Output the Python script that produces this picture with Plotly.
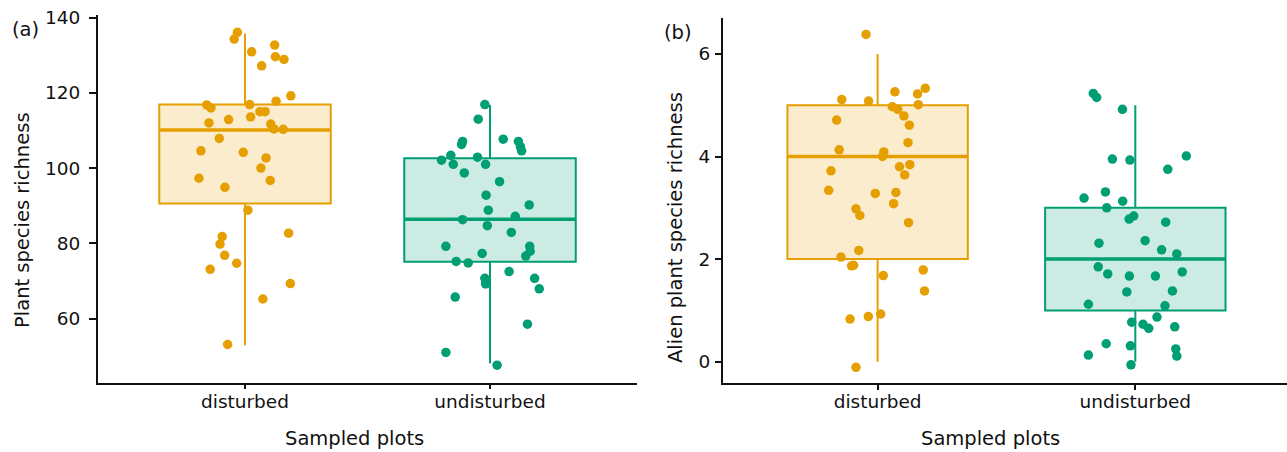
import plotly.graph_objects as go

W, H = 1287, 452

categories = ["disturbed", "undisturbed"]
cat_pos = [1, 2]
colors = ["#E69F00", "#009E73"]
fills = ["rgba(230,159,0,0.2)", "rgba(0,158,115,0.2)"]

# ---------- Panel (a): Plant species richness ----------
a_box_q1 = [90.6, 75.1]
a_box_median = [110.1, 86.4]
a_box_q3 = [116.9, 102.6]
a_box_low = [52.9, 48.1]
a_box_high = [135.8, 116.8]

a_dist_vals = [136.1, 134.3, 130.9, 132.7, 129.6, 128.9, 127.2, 119.2, 117.8, 116.8,
               116.0, 116.9, 115.0, 115.0, 113.6, 112.9, 112.0, 111.7, 110.4, 110.3,
               107.9, 104.6, 104.2, 102.7, 100.0, 97.3, 96.7, 94.9, 88.8, 82.7,
               81.8, 79.8, 76.8, 74.7, 73.1, 69.3, 65.2, 53.1]
a_dist_jit = [-0.031, -0.044, 0.027, 0.121, 0.124, 0.159, 0.068, 0.187, 0.127, -0.156,
              -0.139, 0.019, 0.061, 0.082, 0.023, -0.067, -0.147, 0.105, 0.118, 0.156,
              -0.105, -0.180, -0.007, 0.086, 0.065, -0.188, 0.103, -0.082, 0.012, 0.178,
              -0.093, -0.102, -0.083, -0.034, -0.142, 0.185, 0.073, -0.071]
a_und_vals = [116.9, 113.0, 107.1, 106.3, 107.7, 107.1, 105.7, 104.6, 103.4, 102.1,
              101.0, 102.9, 101.0, 98.7, 96.4, 92.8, 90.2, 88.8, 86.3, 87.2,
              84.7, 82.9, 79.2, 79.2, 77.9, 76.6, 77.3, 75.2, 74.8, 72.5,
              70.7, 69.2, 70.7, 67.9, 65.7, 58.5, 51.0, 47.6]
a_und_jit = [-0.021, -0.048, -0.112, -0.116, 0.054, 0.116, 0.124, 0.129, -0.160, -0.198,
             -0.150, -0.051, -0.018, -0.105, 0.039, -0.016, 0.160, -0.007, -0.112, 0.103,
             -0.011, 0.087, -0.180, 0.162, 0.164, 0.146, -0.032, -0.138, -0.089, 0.078,
             -0.021, -0.018, 0.182, 0.201, -0.142, 0.153, -0.180, 0.029]

# ---------- Panel (b): Alien plant species richness ----------
b_box_q1 = [2.0, 1.0]
b_box_median = [4.0, 2.0]
b_box_q3 = [5.0, 3.0]
b_box_low = [0.0, 0.0]
b_box_high = [6.0, 5.0]

b_dist_vals = [6.38, 5.11, 5.08, 5.26, 5.22, 5.33, 4.97, 4.92, 5.01, 4.79,
               4.61, 4.71, 4.27, 4.13, 4.09, 4.00, 3.80, 3.84, 3.64, 3.72,
               3.34, 3.28, 3.30, 3.08, 2.98, 2.85, 2.71, 2.17, 2.04, 1.87,
               1.88, 1.68, 1.79, 1.38, 0.83, 0.88, 0.93, -0.11]
b_dist_jit = [-0.045, -0.139, -0.035, 0.067, 0.155, 0.185, 0.057, 0.078, 0.158, 0.102,
              0.123, -0.159, 0.118, -0.149, 0.024, 0.019, 0.085, 0.125, 0.105, -0.181,
              -0.190, -0.009, 0.071, 0.062, -0.084, -0.069, 0.120, -0.073, -0.142, -0.101,
              -0.093, 0.022, 0.177, 0.182, -0.107, -0.036, 0.012, -0.084]
b_und_vals = [5.23, 5.15, 4.92, 3.95, 3.93, 4.01, 3.75, 3.31, 3.19, 3.13,
              3.00, 2.84, 2.78, 2.72, 2.31, 2.36, 2.18, 2.10, 1.85, 1.71,
              1.67, 1.67, 1.75, 1.36, 1.38, 1.12, 1.09, 0.87, 0.77, 0.73,
              0.65, 0.68, 0.35, 0.31, 0.13, 0.25, 0.11, -0.06]
b_und_jit = [-0.163, -0.150, -0.050, -0.089, -0.021, 0.198, 0.126, -0.116, -0.199, -0.049,
             -0.111, -0.006, -0.024, 0.118, -0.141, 0.038, 0.102, 0.161, -0.144, -0.107,
             -0.023, 0.078, 0.182, -0.033, 0.144, -0.182, 0.115, 0.084, -0.014, 0.030,
             0.052, 0.153, -0.113, -0.019, -0.182, 0.157, 0.161, -0.017]

a_ticks = [60, 80, 100, 120, 140]
b_ticks = [0, 2, 4, 6]

BOX_W = 0.7
FONT = "DejaVu Sans"

fig = go.Figure()


def add_panel(xa, ya, q1, med, q3, lo, hi, pts):
    for i in range(2):
        fig.add_trace(go.Box(
            x=[cat_pos[i]], q1=[q1[i]], median=[med[i]], q3=[q3[i]],
            lowerfence=[lo[i]], upperfence=[hi[i]],
            width=BOX_W, fillcolor=fills[i],
            line=dict(color=colors[i], width=2),
            boxpoints=False, whiskerwidth=0,
            xaxis=xa, yaxis=ya, showlegend=False, hoverinfo="skip"))
        # thicker median line, as in ggplot
        fig.add_trace(go.Scatter(
            x=[cat_pos[i] - BOX_W / 2, cat_pos[i] + BOX_W / 2], y=[med[i], med[i]],
            mode="lines", line=dict(color=colors[i], width=3.5),
            xaxis=xa, yaxis=ya, showlegend=False, hoverinfo="skip"))
    for i, (vals, jit) in enumerate(pts):
        fig.add_trace(go.Scatter(
            x=[cat_pos[i] + j for j in jit], y=vals, mode="markers",
            marker=dict(color=colors[i], size=9.5, line=dict(width=0)),
            xaxis=xa, yaxis=ya, showlegend=False))


add_panel("x", "y", a_box_q1, a_box_median, a_box_q3, a_box_low, a_box_high,
          [(a_dist_vals, a_dist_jit), (a_und_vals, a_und_jit)])
add_panel("x2", "y2", b_box_q1, b_box_median, b_box_q3, b_box_low, b_box_high,
          [(b_dist_vals, b_dist_jit), (b_und_vals, b_und_jit)])

axis_common = dict(showline=True, linecolor="#111", linewidth=1.8, ticks="outside",
                   tickwidth=1.8, tickcolor="#111", showgrid=False,
                   zeroline=False, automargin=False,
                   tickfont=dict(family=FONT, size=18.5, color="#111"))


def px_x(p):
    return p / W


def px_y(p):
    return 1 - p / H


fig.update_layout(
    width=W, height=H, margin=dict(l=0, r=0, t=0, b=0, pad=0, autoexpand=False),
    paper_bgcolor="white", plot_bgcolor="white",
    font=dict(family=FONT, color="#111"),
    xaxis=dict(domain=[px_x(98), px_x(637)], range=[0.4, 2.6], tickvals=cat_pos,
               ticktext=categories, anchor="y", ticklen=5, ticklabelstandoff=-4,
               **axis_common),
    yaxis=dict(domain=[px_y(382.5), px_y(15)], range=[43.0, 140.7], tickvals=a_ticks,
               anchor="x", ticklen=7, ticklabelstandoff=5, **axis_common),
    xaxis2=dict(domain=[px_x(723), 1.0], range=[0.4, 0.4 + 564 / 257.7], tickvals=cat_pos,
                ticktext=categories, anchor="y2", ticklen=5, ticklabelstandoff=-4,
                **axis_common),
    yaxis2=dict(domain=[px_y(383.3), px_y(18.3)], range=[-0.421, 6.694], tickvals=b_ticks,
                anchor="x2", ticklen=6, ticklabelstandoff=1, **axis_common),
)

ann_font = dict(family=FONT, size=19.5, color="#111")
annotations = [
    dict(text="(a)", x=px_x(25), y=px_y(29)),
    dict(text="(b)", x=px_x(678), y=px_y(33)),
    dict(text="Sampled plots", x=px_x(354), y=px_y(438)),
    dict(text="Sampled plots", x=px_x(990), y=px_y(438)),
    dict(text="Plant species richness", x=px_x(22), y=px_y(220), textangle=-90),
    dict(text="Alien plant species richness", x=px_x(675), y=px_y(228), textangle=-90),
]
for a in annotations:
    fig.add_annotation(xref="paper", yref="paper", showarrow=False,
                       xanchor="center", yanchor="middle", font=ann_font, **a)

fig.write_html(
    "out.html",
    config={"displayModeBar": False},
    post_script="document.body.style.margin='0';document.body.style.padding='0';"
                "document.body.style.overflow='hidden';",
)
